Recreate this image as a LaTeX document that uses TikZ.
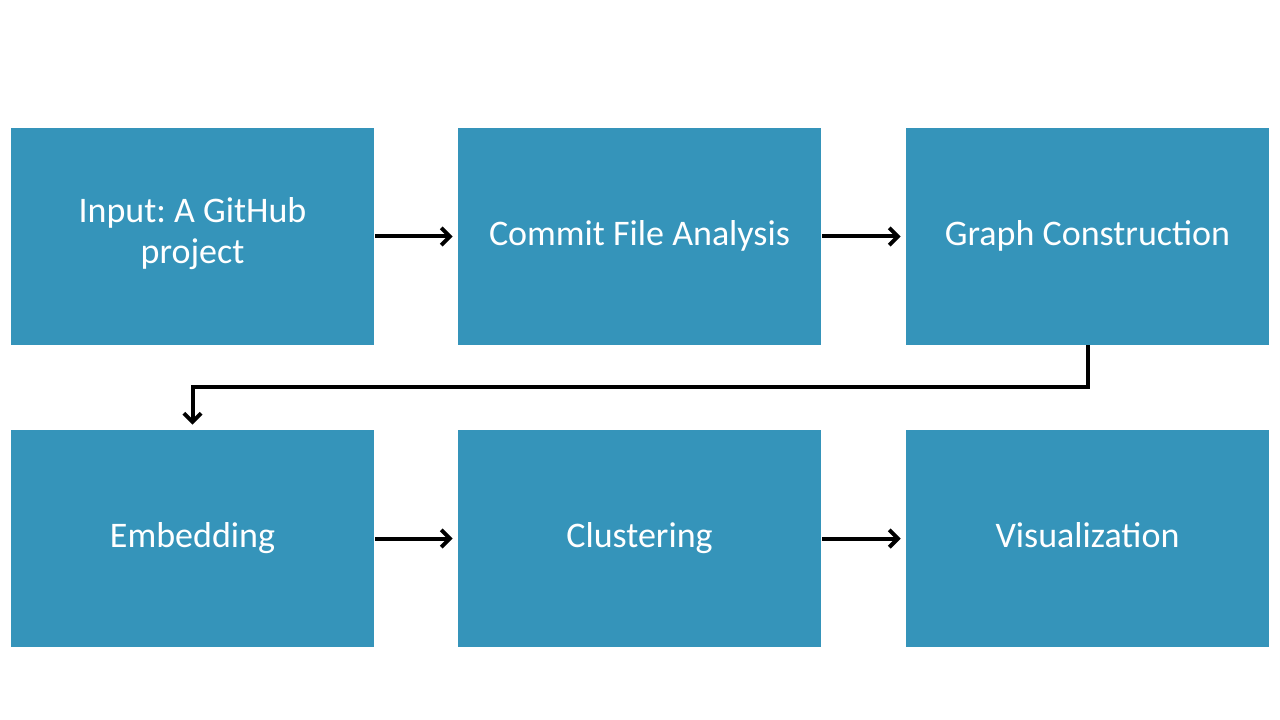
\documentclass[tikz,border=0pt]{standalone}
\usepackage{fontspec}
\setmainfont{Carlito}
\usetikzlibrary{arrows.meta}
\definecolor{boxblue}{HTML}{3594BA}
\newcommand\boxstrut{\rule[-9pt]{0pt}{32pt}}
\frenchspacing
\begin{document}
\begin{tikzpicture}[x=0.75pt,y=-0.75pt,
  stagebox/.style={fill=boxblue,draw=none,minimum width=363*0.75pt,minimum height=217*0.75pt,
    inner sep=0pt,text=white,font=\fontsize{27}{31}\selectfont,align=center,
    execute at begin node=\boxstrut,execute at end node=\boxstrut},
  flow/.style={line width=3pt,-{Straight Barb[length=6.5pt,width=13pt,line width=3pt]}}]
\useasboundingbox (0,0) rectangle (1280,720);
\node[stagebox] (input) at (192.5,236.5) {Input: A GitHub\\project};
\node[stagebox] (commit) at (639.5,236.5) {Commit File Analysis};
\node[stagebox] (graph) at (1087.5,236.5) {Graph Construction};
\node[stagebox] (embed) at (192.5,538.5) {Embedding};
\node[stagebox] (cluster) at (639.5,538.5) {Clustering};
\node[stagebox] (vis) at (1087.5,538.5) {Visualization};
\draw[flow] ([xshift=1*0.75pt]input.east) -- ([xshift=-5*0.75pt]commit.west);
\draw[flow] ([xshift=1*0.75pt]commit.east) -- ([xshift=-5*0.75pt]graph.west);
\draw[flow] ([xshift=1*0.75pt]embed.east) -- ([xshift=-5*0.75pt]cluster.west);
\draw[flow] ([xshift=1*0.75pt]cluster.east) -- ([xshift=-5*0.75pt]vis.west);
\draw[flow] (graph.south) -- ++(0,42) -| ([yshift=5*0.75pt]embed.north);
\end{tikzpicture}
\end{document}
